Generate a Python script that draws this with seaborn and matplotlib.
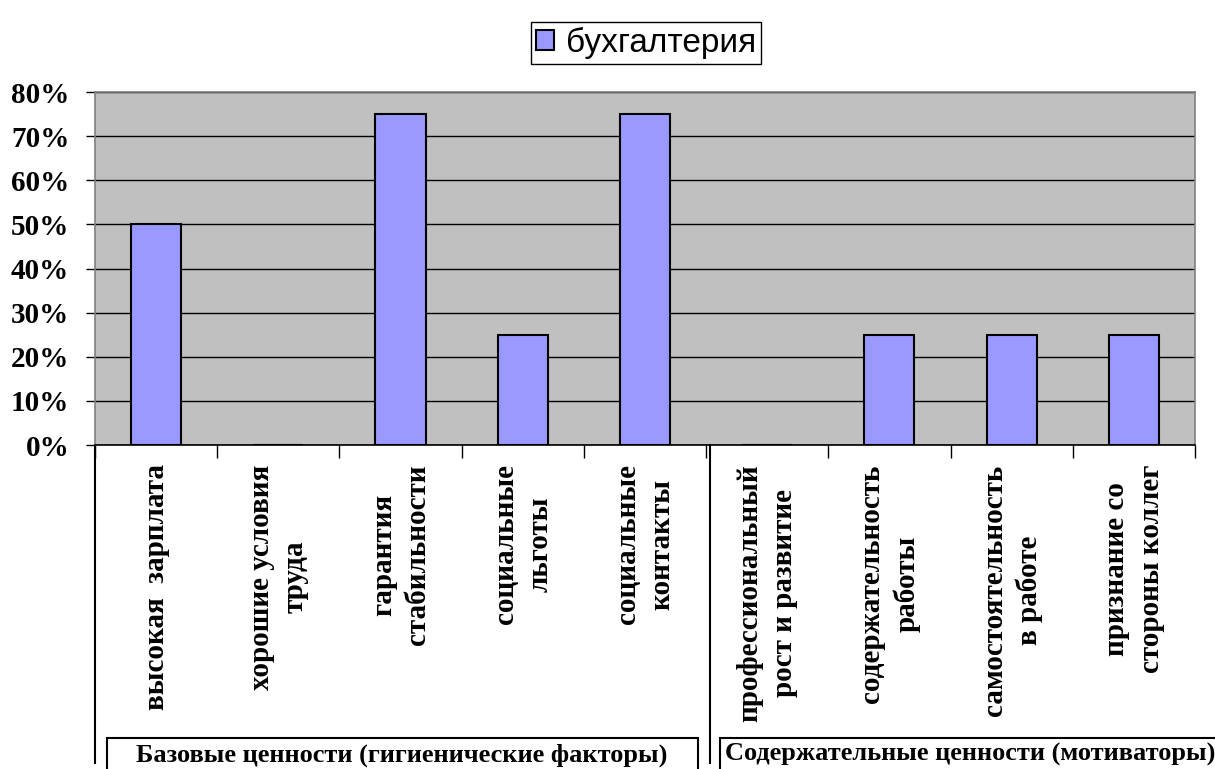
import numpy as np
import pandas as pd
import matplotlib.pyplot as plt
import seaborn as sns
from matplotlib.patches import Rectangle

# данные
factors = ["высокая  зарплата", "хорошие условия\nтруда", "гарантия\nстабильности",
           "социальные\nльготы", "социальные\nконтакты", "профессиональный\nрост и развитие",
           "содержательность\nработы", "самостоятельность\nв работе", "признание со\nстороны коллег"]
share = [50, 0, 75, 25, 75, 0, 25, 25, 25]
series = "бухгалтерия"
ytick_values = [0, 10, 20, 30, 40, 50, 60, 70, 80]
ytick_labels = ["0%", "10%", "20%", "30%", "40%", "50%", "60%", "70%", "80%"]
groups = ["Базовые ценности (гигиенические факторы)", "Содержательные ценности (мотиваторы)"]

df = pd.DataFrame({"factor": factors, "share": share, "series": series})

serif = {"family": "Liberation Serif", "weight": "bold"}

fig = plt.figure(figsize=(12.15, 7.69), dpi=100)
ax = fig.add_axes([0.0782, 0.4213, 0.9053, 0.459])
sns.barplot(data=df, x="factor", y="share", hue="series", palette=["#9999FF"], saturation=1,
            width=0.41, dodge=False, edgecolor="black", linewidth=1.5, ax=ax)
handles, labels = ax.get_legend_handles_labels()
if ax.get_legend():
    ax.get_legend().remove()

ax.set_facecolor("#C0C0C0")
ax.set_xlim(-0.5, 8.5)
ax.set_ylim(0, 80)
ax.set_axisbelow(True)
ax.yaxis.grid(True, color="black", linewidth=1)
ax.set_xlabel("")
ax.set_ylabel("")

for s in ["left", "top", "right"]:
    ax.spines[s].set_color("#808080")
    ax.spines[s].set_linewidth(1.2)
ax.spines["bottom"].set_color("black")
ax.spines["bottom"].set_linewidth(1.2)

ax.set_yticks(ytick_values)
ax.set_yticklabels(ytick_labels, fontdict=serif, fontsize=21)
ax.tick_params(axis="y", length=6.5, width=1, color="black", pad=12)

# границы категорий и подписи
ax.set_xticks(np.arange(-0.5, 9, 1))
ax.set_xticklabels([""] * 10)
ax.tick_params(axis="x", which="major", length=9, width=1, color="black")
ax.set_xticks(range(len(factors)), minor=True)
ax.set_xticklabels(factors, minor=True, rotation=90, fontdict=serif, fontsize=21,
                   multialignment="center", va="top", ha="center", linespacing=1.35)
ax.tick_params(axis="x", which="minor", length=0, pad=14)

tr = ax.get_xaxis_transform()
ax.plot([-0.5, -0.5], [0, -0.90], transform=tr, clip_on=False, color="black", lw=1.5)
ax.plot([4.53, 4.53], [0, -0.90], transform=tr, clip_on=False, color="black", lw=1.5)

ax.add_patch(Rectangle((-0.40, -1.0), 4.83, 0.17, transform=tr, fill=False,
                       clip_on=False, lw=1.5, edgecolor="black"))
ax.add_patch(Rectangle((4.61, -1.0), 5.5, 0.17, transform=tr, fill=False,
                       clip_on=False, lw=1.5, edgecolor="black"))
ax.text(2.01, -0.845, groups[0], transform=tr, ha="center", va="top", fontdict=serif, fontsize=19)
ax.text(6.66, -0.845, groups[1], transform=tr, ha="center", va="top", fontdict=serif, fontsize=19)

fig.legend(handles, labels, loc="center", bbox_to_anchor=(646 / 1215, 1 - 43 / 769),
           frameon=True, fancybox=False, framealpha=1, edgecolor="black",
           prop={"family": "Liberation Sans", "size": 24},
           handlelength=0.55, handleheight=0.55, handletextpad=0.36, borderpad=0.15)

plt.savefig("out.png", dpi=100)
